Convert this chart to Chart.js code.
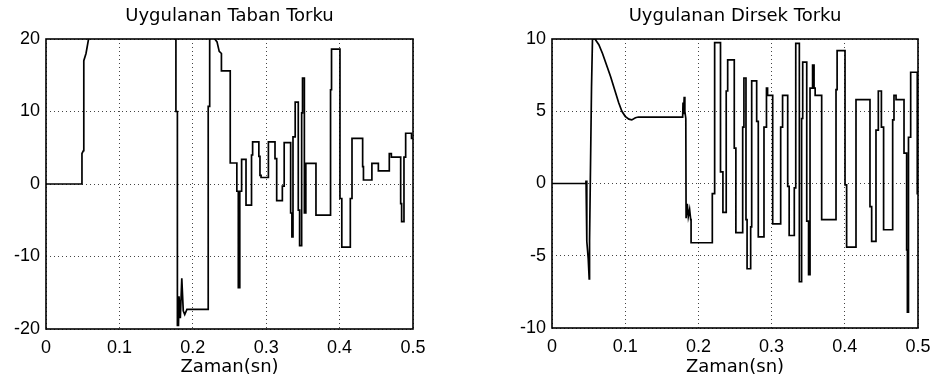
<!DOCTYPE html>
<html>
<head>
<meta charset="utf-8">
<script src="https://cdn.jsdelivr.net/npm/chart.js@4/dist/chart.umd.min.js"></script>
<style>
  html, body { margin: 0; padding: 0; background: #fff; }
  #wrap { position: relative; width: 942px; height: 392px; background: #fff; }
  canvas { position: absolute; top: 0; }
  #taban { left: 0; }
  #dirsek { left: 471px; }
</style>
</head>
<body>
<div id="wrap">
  <canvas id="taban" width="471" height="392"></canvas>
  <canvas id="dirsek" width="471" height="392"></canvas>
</div>
<script>
// Time axis ticks (seconds)
const xTicks = [0, 0.1, 0.2, 0.3, 0.4, 0.5];
const xTickLabels = ['0', '0.1', '0.2', '0.3', '0.4', '0.5'];

// Torque axis ticks
const tabanYTicks = [-20, -10, 0, 10, 20];
const tabanYLabels = ['-20', '-10', '0', '10', '20'];
const dirsekYTicks = [-10, -5, 0, 5, 10];
const dirsekYLabels = ['-10', '-5', '0', '5', '10'];

// Applied base torque: [time (s), torque]; the controller saturates above the plotted range
const tabanTork = [
  [0, 0], [0.0486, 0], [0.0490, 4.2], [0.0510, 4.6], [0.0515, 17.0], [0.0545, 18.0],
  [0.0580, 20.0], [0.0620, 30], [0.1750, 30], [0.1770, 20], [0.1770, 10], [0.1790, 10],
  [0.1790, -19.5], [0.1805, -19.5], [0.1812, -15.5], [0.1830, -18.5], [0.1850, -13.0],
  [0.1870, -17.5], [0.1890, -18.0], [0.1920, -17.3], [0.2210, -17.3], [0.2210, 10.7],
  [0.2225, 10.7], [0.2230, 30], [0.2290, 30], [0.2300, 20], [0.2330, 19.6], [0.2360, 18.3],
  [0.2390, 18.0], [0.2390, 15.6], [0.2510, 15.6], [0.2510, 2.9], [0.2600, 2.9], [0.2600, -1.0],
  [0.2620, -1.0], [0.2620, -14.3], [0.2640, -14.3], [0.2640, -1.0], [0.2665, -1.0], [0.2665, 3.4],
  [0.2725, 3.4], [0.2725, -2.9], [0.2800, -2.9], [0.2800, 4.0], [0.2815, 4.0], [0.2815, 5.8],
  [0.2900, 5.8], [0.2900, 3.8], [0.2915, 3.8], [0.2915, 1.2], [0.2930, 1.2], [0.2930, 0.9],
  [0.3030, 0.9], [0.3030, 5.8], [0.3120, 5.8], [0.3120, 3.5], [0.3143, 3.5], [0.3143, -2.3],
  [0.3220, -2.3], [0.3220, -0.3], [0.3245, -0.3], [0.3245, 5.7], [0.3333, 5.7], [0.3333, -4.0],
  [0.3350, -4.0], [0.3350, -7.3], [0.3365, -7.3], [0.3365, 6.5], [0.3395, 6.5], [0.3395, 11.3],
  [0.3437, 11.3], [0.3437, -3.6], [0.3455, -3.6], [0.3455, -8.5], [0.3483, -8.5], [0.3483, 9.8],
  [0.3495, 9.8], [0.3495, 14.6], [0.3520, 14.6], [0.3520, -4.0], [0.3540, -4.0], [0.3540, 2.85],
  [0.3678, 2.85], [0.3678, -4.3], [0.3870, -4.3], [0.3870, 1.5], [0.3880, 1.5], [0.3880, 13.0],
  [0.3890, 13.0], [0.3890, 18.6], [0.4005, 18.6], [0.4005, -2.0], [0.4030, -2.0], [0.4030, -8.7],
  [0.4146, -8.7], [0.4146, -2.0], [0.4169, -2.0], [0.4169, 6.3], [0.4314, 6.3], [0.4314, 2.4],
  [0.4325, 2.4], [0.4325, 0.55], [0.4440, 0.55], [0.4440, 2.85], [0.4528, 2.85], [0.4528, 1.8],
  [0.4677, 1.8], [0.4677, 4.2], [0.4705, 4.2], [0.4705, 3.7], [0.4832, 3.7], [0.4832, -2.7],
  [0.4845, -2.7], [0.4845, -5.2], [0.4877, -5.2], [0.4877, 3.7], [0.4900, 3.7], [0.4900, 7.0],
  [0.4980, 7.0], [0.4980, 6.3], [0.5000, 6.3]
];

// Applied elbow torque: [time (s), torque]
const dirsekTork = [
  [0, 0], [0.0462, 0], [0.0465, 0.2], [0.0474, 0.2], [0.0477, -4.0], [0.0495, -5.2],
  [0.0508, -6.6], [0.0513, -4.0], [0.0540, 6.7], [0.0553, 10.0], [0.0587, 10.0],
  [0.0640, 9.6], [0.0690, 9.0], [0.0745, 8.2], [0.0800, 7.4], [0.0855, 6.5], [0.0910, 5.6],
  [0.0955, 5.0], [0.1000, 4.65], [0.1050, 4.45], [0.1090, 4.4], [0.1140, 4.55], [0.1180, 4.6],
  [0.1785, 4.6], [0.1790, 5.6], [0.1798, 4.8], [0.1806, 6.0], [0.1815, 5.0], [0.1828, 4.5],
  [0.1832, -2.4], [0.1848, -1.4], [0.1862, -2.3], [0.1880, -1.8], [0.1895, -2.5], [0.1900, -2.5],
  [0.1900, -4.1], [0.2190, -4.1], [0.2190, -0.7], [0.2222, -0.7], [0.2222, 9.75], [0.2302, 9.75],
  [0.2302, 0.8], [0.2335, 0.8], [0.2335, -2.0], [0.2380, -2.0], [0.2380, 6.4], [0.2400, 6.4],
  [0.2400, 8.55], [0.2490, 8.55], [0.2490, 2.45], [0.2512, 2.45], [0.2512, -3.4], [0.2605, -3.4],
  [0.2605, 3.9], [0.2622, 3.9], [0.2622, 7.3], [0.2650, 7.3], [0.2650, -2.5], [0.2665, -2.5],
  [0.2665, -5.9], [0.2714, -5.9], [0.2714, -3.0], [0.2728, -3.0], [0.2728, 7.1], [0.2796, 7.1],
  [0.2796, 4.3], [0.2818, 4.3], [0.2818, -3.7], [0.2896, -3.7], [0.2896, 3.9], [0.2930, 3.9],
  [0.2930, 6.6], [0.2945, 6.6], [0.2945, 6.1], [0.3015, 6.1], [0.3015, -2.8], [0.3124, -2.8],
  [0.3124, 3.9], [0.3150, 3.9], [0.3150, 6.1], [0.3220, 6.1], [0.3220, -0.2], [0.3240, -0.2],
  [0.3240, -3.6], [0.3310, -3.6], [0.3310, -0.3], [0.3330, -0.3], [0.3330, 9.7], [0.3379, 9.7],
  [0.3379, -6.8], [0.3410, -6.8], [0.3410, 4.5], [0.3425, 4.5], [0.3425, 8.4], [0.3480, 8.4],
  [0.3480, -2.6], [0.3505, -2.6], [0.3505, -6.3], [0.3525, -6.3], [0.3525, 6.6], [0.3560, 6.6],
  [0.3560, 8.2], [0.3580, 8.2], [0.3580, 6.6], [0.3595, 6.6], [0.3595, 6.1], [0.3684, 6.1],
  [0.3684, -2.5], [0.3880, -2.5], [0.3880, 6.5], [0.3895, 6.5], [0.3895, 9.2], [0.4003, 9.2],
  [0.4003, -0.1], [0.4025, -0.1], [0.4025, -4.4], [0.4153, -4.4], [0.4153, 5.8], [0.4344, 5.8],
  [0.4344, -1.6], [0.4367, -1.6], [0.4367, -4.0], [0.4426, -4.0], [0.4426, 3.7], [0.4458, 3.7],
  [0.4458, 6.4], [0.4500, 6.4], [0.4500, 3.9], [0.4530, 3.9], [0.4530, -3.2], [0.4654, -3.2],
  [0.4654, 4.4], [0.4672, 4.4], [0.4672, 6.1], [0.4700, 6.1], [0.4700, 5.8], [0.4809, 5.8],
  [0.4809, 2.1], [0.4845, 2.1], [0.4845, -4.6], [0.4855, -4.6], [0.4855, -8.9], [0.4870, -8.9],
  [0.4870, 3.2], [0.4900, 3.2], [0.4900, 7.7], [0.4990, 7.7], [0.4990, -0.7], [0.5000, -0.7]
];

const tickFont = { family: "'Liberation Sans', Arial, sans-serif", size: 18, weight: 'normal' };
const labelFont = { family: "'DejaVu Sans', sans-serif", size: 18, weight: 'normal' };

// Closed axes box around the plotting area
const boxPlugin = {
  id: 'axesBox',
  afterDatasetsDraw(chart) {
    const { ctx, chartArea: a } = chart;
    ctx.save();
    ctx.strokeStyle = '#000';
    ctx.lineWidth = 1.6;
    ctx.strokeRect(a.left, a.top, a.right - a.left, a.bottom - a.top);
    ctx.restore();
  }
};

function makeChart(id, title, samples, yTicks, yLabels, yAxisWidth, rightPad, xAxisHeight) {
  const points = samples.map(([t, v]) => ({ x: t, y: v }));
  return new Chart(document.getElementById(id), {
    type: 'line',
    data: {
      datasets: [{
        data: points,
        borderColor: '#000',
        borderWidth: 1.7,
        pointRadius: 0,
        tension: 0,
        fill: false,
        clip: 0
      }]
    },
    options: {
      responsive: false,
      animation: false,
      events: [],
      layout: { padding: { left: 0, right: rightPad, top: 0, bottom: 0 } },
      plugins: {
        legend: { display: false },
        tooltip: { enabled: false },
        title: {
          display: true,
          fullSize: false,
          text: title,
          color: '#000',
          font: labelFont,
          padding: { top: 5.5, bottom: 11.9 }
        }
      },
      scales: {
        x: {
          type: 'linear',
          min: xTicks[0],
          max: xTicks[xTicks.length - 1],
          afterBuildTicks: s => { s.ticks = xTicks.map(v => ({ value: v })); },
          afterFit: s => { s.height = xAxisHeight; },
          ticks: {
            color: '#000',
            font: tickFont,
            padding: 8,
            maxRotation: 0,
            autoSkip: false,
            callback: (v, i) => xTickLabels[i]
          },
          grid: { color: '#444', lineWidth: 1, drawTicks: false },
          border: { display: false, dash: [1, 3] },
          title: {
            display: true,
            text: 'Zaman(sn)',
            color: '#000',
            font: labelFont,
            padding: { top: 0, bottom: 13.7 }
          }
        },
        y: {
          type: 'linear',
          min: yTicks[0],
          max: yTicks[yTicks.length - 1],
          afterBuildTicks: s => { s.ticks = yTicks.map(v => ({ value: v })); },
          afterFit: s => { s.width = yAxisWidth; },
          ticks: {
            color: '#000',
            font: tickFont,
            padding: 6,
            autoSkip: false,
            callback: (v, i) => yLabels[i]
          },
          grid: { color: '#444', lineWidth: 1, drawTicks: false },
          border: { display: false, dash: [1, 3] }
        }
      }
    },
    plugins: [boxPlugin]
  });
}

makeChart('taban', 'Uygulanan Taban Torku', tabanTork, tabanYTicks, tabanYLabels, 46, 58, 63);
makeChart('dirsek', 'Uygulanan Dirsek Torku', dirsekTork, dirsekYTicks, dirsekYLabels, 81, 24, 64);
</script>
</body>
</html>
